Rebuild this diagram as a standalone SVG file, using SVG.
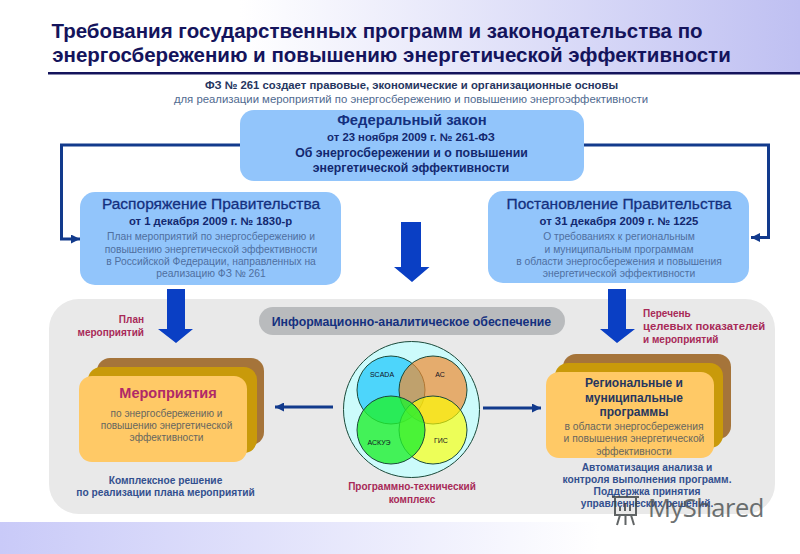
<svg xmlns="http://www.w3.org/2000/svg" width="800" height="554" viewBox="0 0 800 554">
<defs>
<linearGradient id="top" x1="0" y1="0" x2="1" y2="0"><stop offset="0.3" stop-color="#ffffff"/><stop offset="1" stop-color="#bfc0f2"/></linearGradient>
<linearGradient id="bot" x1="0" y1="0" x2="1" y2="0"><stop offset="0" stop-color="#c9caf8"/><stop offset="0.75" stop-color="#ffffff"/></linearGradient>
<marker id="ah" viewBox="0 0 9 9" markerWidth="9" markerHeight="9" refX="9" refY="4.500" orient="auto" markerUnits="userSpaceOnUse"><path d="M0 0L9 4.500L0 9Z" fill="#123a8c"/></marker>
</defs>
<style>
text{font-family:"Liberation Sans",Arial,sans-serif;text-anchor:middle}
.b{font-weight:bold}
.box{fill:#92c5fb}
.navy{fill:#14307f}
.ttl{fill:#14307f;font-size:15.500px;stroke:#14307f;stroke-width:.3}
.fl{fill:#13286f;font-weight:bold;font-size:12.300px}
.sub{fill:#13286f;font-weight:bold;font-size:11.300px}
.body{fill:#4f6f9f;font-size:10.300px}
.red{fill:#a82a58;font-weight:bold;font-size:10px}
.blue{fill:#33508f;font-weight:bold;font-size:10.200px}
.grey{fill:#66665f;font-size:10.100px}
.gr2{fill:#66665f;font-size:10.300px}
.conn{fill:none;stroke:#123a8c;stroke-width:3}
.blk{fill:#0a3fc4}
.c{stroke:#1b4a3a;stroke-width:1}
.cl{font-size:7px;fill:#112}
</style>
<rect width="800" height="554" fill="#fff"/>
<rect width="800" height="72" fill="url(#top)"/>
<rect y="522" width="800" height="32" fill="url(#bot)"/>
<g id="title">
<text class="b" x="377" y="38" font-size="20.500" fill="#14145c">Требования государственных программ и законодательства по</text>
<text class="b" x="391.500" y="62" font-size="20.500" fill="#14145c">энергосбережению и повышению энергетической эффективности</text>
<rect x="48" y="72" width="752" height="2.500" fill="#14145c"/>
</g>
<g id="intro">
<text class="b" x="411.500" y="89" font-size="11.300" fill="#26365f">ФЗ № 261 создает правовые, экономические и организационные основы</text>
<text x="411" y="103" font-size="11.350" fill="#4f6a90">для реализации мероприятий по энергосбережению и повышению энергоэффективности</text>
</g>
<rect x="49" y="299" width="726" height="215" rx="30" fill="#e9e9e9"/>
<g id="connectors">
<path class="conn" d="M240 145H61.500V239H80" marker-end="url(#ah)"/>
<path class="conn" d="M584 145H768.500V237.500H751" marker-end="url(#ah)"/>
<path class="conn" d="M333 407H275" marker-end="url(#ah)"/>
<path class="conn" d="M483 408H541" marker-end="url(#ah)"/>
<path class="blk" d="M401 222H421V267H429.500L412 282L394 267H401Z"/>
<path class="blk" d="M167 289H185V329H193L176 343L158 329H167Z"/>
<path class="blk" d="M608 289H626V329H635L617 343L600 329H608Z"/>
</g>
<g id="federal">
<rect class="box" x="240" y="110" width="344" height="71" rx="14"/>
<text class="b navy" x="412" y="125" font-size="14.800">Федеральный закон</text>
<text class="sub" x="411" y="141">от 23 ноября 2009 г. № 261-ФЗ</text>
<text class="fl" x="411.500" y="157">Об энергосбережении и о повышении</text>
<text class="fl" x="411" y="172">энергетической эффективности</text>
</g>
<g id="order">
<rect class="box" x="80" y="192" width="261" height="93" rx="15"/>
<text class="ttl" x="211" y="209">Распоряжение Правительства</text>
<text class="sub" x="210.500" y="225">от 1 декабря 2009 г. № 1830-р</text>
<text class="body" x="211" y="240">План мероприятий по энергосбережению и</text>
<text class="body" x="211" y="253">повышению энергетической эффективности</text>
<text class="body" x="211" y="265">в Российской Федерации, направленных на</text>
<text class="body" x="211" y="277">реализацию ФЗ № 261</text>
</g>
<g id="decree">
<rect class="box" x="488" y="191" width="261" height="92" rx="15"/>
<text class="ttl" x="619" y="209">Постановление Правительства</text>
<text class="sub" x="619" y="225">от 31 декабря 2009 г. № 1225</text>
<text class="body" x="619" y="240">О требованиях к региональным</text>
<text class="body" x="619" y="253">и муниципальным программам</text>
<text class="body" x="619" y="265">в области энергосбережения и повышения</text>
<text class="body" x="619" y="277">энергетической эффективности</text>
</g>
<g id="info">
<rect x="259" y="307" width="306" height="28" rx="14" fill="#b9bbbd"/>
<text class="b navy" x="411.500" y="326" font-size="12.300">Информационно-аналитическое обеспечение</text>
</g>
<g id="plan-label">
<text class="red" x="144" y="323" style="text-anchor:end">План</text>
<text class="red" x="144" y="336" style="text-anchor:end">мероприятий</text>
</g>
<g id="list-label">
<text class="red" x="643" y="317" style="text-anchor:start">Перечень</text>
<text class="red" x="643" y="330" style="text-anchor:start;font-size:11.300px">целевых показателей</text>
<text class="red" x="643" y="343" style="text-anchor:start">и мероприятий</text>
</g>
<g id="measures">
<rect x="97" y="358" width="167" height="87" rx="13" fill="#a5743a"/>
<rect x="88" y="367" width="169" height="86" rx="13" fill="#c99a0a"/>
<rect x="79" y="376" width="168" height="86" rx="13" fill="#ffc966"/>
<text x="168" y="398" font-size="14.500" class="b" fill="#b02a68">Мероприятия</text>
<text class="grey" x="166.500" y="417">по энергосбережению и</text>
<text class="grey" x="166.500" y="429">повышению энергетической</text>
<text class="grey" x="166.500" y="441">эффективности</text>
</g>
<g id="measures-note">
<text class="blue" x="165.500" y="484">Комплексное решение</text>
<text class="blue" x="165.500" y="496">по реализации плана мероприятий</text>
</g>
<g id="venn">
<circle cx="411.500" cy="409.500" r="68" fill="#ccfbfb" stroke="#1b4a3a" stroke-width="1"/>
<circle class="c" cx="391" cy="390" r="34" fill="#4dd5fb"/>
<circle class="c" cx="433" cy="390" r="34" fill="#f08a30" fill-opacity=".7"/>
<circle class="c" cx="433" cy="430" r="34" fill="#ffff00" fill-opacity=".65"/>
<circle class="c" cx="391" cy="430" r="34" fill="#20f030" fill-opacity=".8"/>
<text class="cl" x="382" y="377">SCADA</text>
<text class="cl" x="440" y="377">АС</text>
<text class="cl" x="379" y="445">АСКУЭ</text>
<text class="cl" x="441" y="443">ГИС</text>
</g>
<g id="venn-label">
<text class="red" x="412" y="490">Программно-технический</text>
<text class="red" x="412" y="503">комплекс</text>
</g>
<g id="programs">
<rect x="563" y="354" width="168" height="85" rx="13" fill="#a5743a"/>
<rect x="555" y="363" width="168" height="85" rx="13" fill="#c99a0a"/>
<rect x="546" y="372" width="168" height="86" rx="13" fill="#ffc966"/>
<text class="b" x="634" y="387" font-size="12" fill="#26365f">Региональные и</text>
<text class="b" x="634" y="402" font-size="12" fill="#26365f">муниципальные</text>
<text class="b" x="634" y="416" font-size="12" fill="#26365f">программы</text>
<text class="gr2" x="634" y="430">в области энергосбережения</text>
<text class="gr2" x="634" y="442">и повышения энергетической</text>
<text class="gr2" x="634" y="455">эффективности</text>
</g>
<g id="programs-note">
<text class="blue" x="647" y="471">Автоматизация анализа и</text>
<text class="blue" x="647" y="483">контроля выполнения программ.</text>
<text class="blue" x="647" y="495">Поддержка принятия</text>
<text class="blue" x="647" y="507">управленческих решений.</text>
</g>
<g id="watermark" opacity=".8">
<text x="648" y="517" font-size="25.500" letter-spacing="-.5" fill="#4a4f50" style="font-family:'Open Sans',sans-serif;text-anchor:start">MyShared</text>
<path d="M612 497H639M615 497V515H636V497M620 515L617 525M625.500 515V525M631 515L634 525M620 511V507M625 511V503M630 511V505" fill="none" stroke="#3a3f40" stroke-width="2"/>
</g>
</svg>
